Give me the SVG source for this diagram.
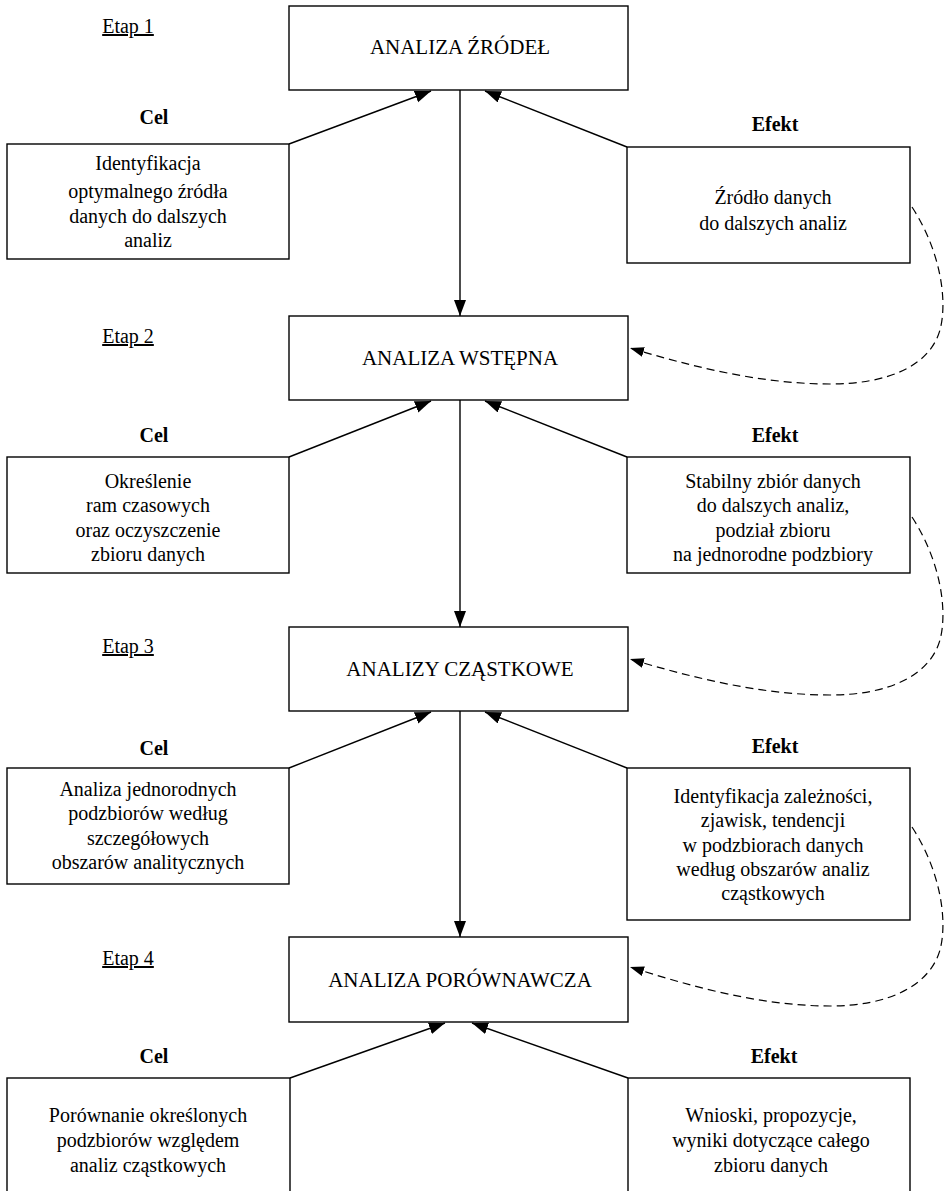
<svg xmlns="http://www.w3.org/2000/svg" width="946" height="1191" viewBox="0 0 946 1191">
  <style>
    text { font-size: 20px; fill: #000; text-anchor: middle; }
    .title { font-size: 21px; }
    .stage { text-decoration: underline; }
    .lbl { font-weight: bold; }
    rect { fill: #fff; stroke: #000; stroke-width: 1.4; }
    .flow { fill: none; stroke: #000; stroke-width: 1.4; }
    .feedback { fill: none; stroke: #000; stroke-width: 1.2; stroke-dasharray: 8 5; }
  </style>
  <defs>
    <marker id="tip" markerUnits="userSpaceOnUse" markerWidth="18" markerHeight="14" refX="16" refY="6" orient="auto">
      <path d="M0,0 L16,6 L0,12 Z" fill="#000"/>
    </marker>
    <marker id="tipSmall" markerUnits="userSpaceOnUse" markerWidth="16" markerHeight="12" refX="14" refY="5" orient="auto">
      <path d="M0,0 L14,5 L0,10 Z" fill="#000"/>
    </marker>
  </defs>

  <rect x="0" y="0" width="946" height="1191" style="fill:#fff;stroke:none"/>

  <g font-family="'Liberation Serif', 'DejaVu Serif', serif">

  <!-- stage captions -->
  <g id="stages">
    <text class="stage" x="128" y="33">Etap 1</text>
    <text class="stage" x="128" y="343">Etap 2</text>
    <text class="stage" x="128" y="653">Etap 3</text>
    <text class="stage" x="128" y="965">Etap 4</text>
  </g>

  <!-- connectors -->
  <g id="connectors">
    <!-- main flow -->
    <line class="flow" x1="460" y1="90" x2="460" y2="316" marker-end="url(#tip)"/>
    <line class="flow" x1="460" y1="400" x2="460" y2="627" marker-end="url(#tip)"/>
    <line class="flow" x1="460" y1="711" x2="460" y2="937" marker-end="url(#tip)"/>
    <!-- goals and effects into stages -->
    <line class="flow" x1="289" y1="144" x2="431" y2="91" marker-end="url(#tip)"/>
    <line class="flow" x1="627" y1="147" x2="485" y2="91" marker-end="url(#tip)"/>
    <line class="flow" x1="289" y1="457" x2="431" y2="401" marker-end="url(#tip)"/>
    <line class="flow" x1="627" y1="457" x2="485" y2="401" marker-end="url(#tip)"/>
    <line class="flow" x1="289" y1="768" x2="431" y2="712" marker-end="url(#tip)"/>
    <line class="flow" x1="627" y1="768" x2="485" y2="712" marker-end="url(#tip)"/>
    <line class="flow" x1="290" y1="1078" x2="445" y2="1023" marker-end="url(#tip)"/>
    <line class="flow" x1="628" y1="1078" x2="472" y2="1023" marker-end="url(#tip)"/>
    <!-- effects feeding the next stage -->
    <path class="feedback" d="M912,207 C940,250 948,300 940,330 C930,365 890,384 830,384 C760,384 690,366 630,348" marker-end="url(#tipSmall)"/>
    <path class="feedback" d="M912,517 C940,560 948,610 940,640 C930,675 890,695 830,695 C760,695 690,677 630,659" marker-end="url(#tipSmall)"/>
    <path class="feedback" d="M912,827 C940,870 948,920 940,950 C930,985 890,1006 830,1006 C760,1006 690,986 630,967" marker-end="url(#tipSmall)"/>
  </g>

  <!-- stage 1 -->
  <g id="stage1">
    <rect x="289" y="6" width="339" height="84"/>
    <text class="title" x="460" y="54">ANALIZA ŹRÓDEŁ</text>
  </g>
  <g id="goal1">
    <text class="lbl" x="154" y="124">Cel</text>
    <rect x="7" y="144" width="282" height="115"/>
    <text x="148" y="170">Identyfikacja</text>
    <text x="148" y="198">optymalnego źródła</text>
    <text x="148" y="223">danych do dalszych</text>
    <text x="148" y="247">analiz</text>
  </g>
  <g id="effect1">
    <text class="lbl" x="775" y="131">Efekt</text>
    <rect x="627" y="147" width="283" height="116"/>
    <text x="773" y="204">Źródło danych</text>
    <text x="773" y="230">do dalszych analiz</text>
  </g>

  <!-- stage 2 -->
  <g id="stage2">
    <rect x="289" y="316" width="339" height="84"/>
    <text class="title" x="460" y="365">ANALIZA WSTĘPNA</text>
  </g>
  <g id="goal2">
    <text class="lbl" x="154" y="442">Cel</text>
    <rect x="7" y="457" width="282" height="116"/>
    <text x="148" y="488">Określenie</text>
    <text x="148" y="512">ram czasowych</text>
    <text x="148" y="537">oraz oczyszczenie</text>
    <text x="148" y="561">zbioru danych</text>
  </g>
  <g id="effect2">
    <text class="lbl" x="775" y="442">Efekt</text>
    <rect x="627" y="457" width="283" height="116"/>
    <text x="773" y="488">Stabilny zbiór danych</text>
    <text x="773" y="512">do dalszych analiz,</text>
    <text x="773" y="537">podział zbioru</text>
    <text x="773" y="561">na jednorodne podzbiory</text>
  </g>

  <!-- stage 3 -->
  <g id="stage3">
    <rect x="289" y="627" width="339" height="84"/>
    <text class="title" x="460" y="676">ANALIZY CZĄSTKOWE</text>
  </g>
  <g id="goal3">
    <text class="lbl" x="154" y="755">Cel</text>
    <rect x="7" y="768" width="282" height="116"/>
    <text x="148" y="796">Analiza jednorodnych</text>
    <text x="148" y="820">podzbiorów według</text>
    <text x="148" y="845">szczegółowych</text>
    <text x="148" y="869">obszarów analitycznych</text>
  </g>
  <g id="effect3">
    <text class="lbl" x="775" y="753">Efekt</text>
    <rect x="627" y="768" width="283" height="152"/>
    <text x="773" y="803">Identyfikacja zależności,</text>
    <text x="773" y="827">zjawisk, tendencji</text>
    <text x="773" y="852">w podzbiorach danych</text>
    <text x="773" y="876">według obszarów analiz</text>
    <text x="773" y="900">cząstkowych</text>
  </g>

  <!-- stage 4 -->
  <g id="stage4">
    <rect x="289" y="937" width="339" height="85"/>
    <text class="title" x="460" y="987">ANALIZA PORÓWNAWCZA</text>
  </g>
  <g id="goal4">
    <text class="lbl" x="154" y="1063">Cel</text>
    <rect x="7" y="1078" width="283" height="130"/>
    <text x="148" y="1122">Porównanie określonych</text>
    <text x="148" y="1147">podzbiorów względem</text>
    <text x="148" y="1172">analiz cząstkowych</text>
  </g>
  <g id="effect4">
    <text class="lbl" x="774" y="1063">Efekt</text>
    <rect x="628" y="1078" width="282" height="130"/>
    <text x="771" y="1122">Wnioski, propozycje,</text>
    <text x="771" y="1147">wyniki dotyczące całego</text>
    <text x="771" y="1172">zbioru danych</text>
  </g>

  </g>
</svg>
